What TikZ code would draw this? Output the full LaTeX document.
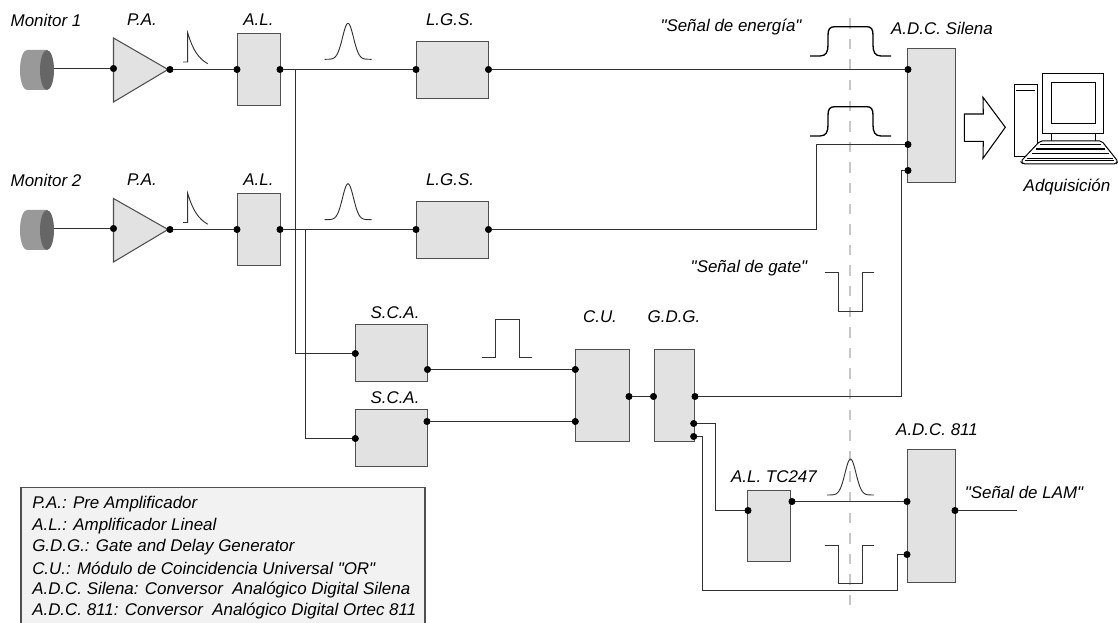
\documentclass[tikz,border=0pt]{standalone}
\usepackage{fontspec}
\setmainfont[Ligatures=TeXOff]{Liberation Sans}

\definecolor{boxfill}{HTML}{E2E2E2}
\definecolor{boxline}{HTML}{505050}
\definecolor{wirecol}{HTML}{303030}
\definecolor{legendfill}{HTML}{F2F2F2}

\begin{document}
\begin{tikzpicture}
[
	x=0.75pt,
	y=-0.75pt,
	closedpt/.style={circle,draw,fill,inner sep=0pt,minimum size=4.8pt},
	unit/.style 2 args={draw=boxline,fill=boxfill,line width=0.8pt,inner sep=0pt,minimum width=#1*0.75pt,minimum height=#2*0.75pt},
	wire/.style={wirecol,line width=0.75pt},
	pulse/.style={black!80!white,line width=0.7pt},
	toppulse/.style={black,line width=1pt},
	tag/.style={font=\fontsize{12.7}{15}\selectfont\itshape,inner sep=0pt},
	pc/.style={black,line width=0.75pt,fill=white}
]
	\useasboundingbox (0,0) rectangle (1118,623);

	% legend
	\fill[legendfill] (21,487.5) rectangle (425,623);
	\draw[boxline,line width=0.8pt] (21,623) -- (21,487.5) -- (425,487.5) -- (425,623);
	\node[tag,anchor=west] at (32,504) (keypa) {P.A.: Pre Amplificador};
	\node[tag,anchor=west] at (32,526) (keyal) {A.L.: Amplificador Lineal};
	\node[tag,anchor=west] at (32,547) (keygdg) {G.D.G.: Gate and Delay Generator};
	\node[tag,anchor=west] at (32,568.5) (keycu) {C.U.: Módulo de Coincidencia Universal "OR"};
	\node[tag,anchor=west] at (32,590) (keysilena) {A.D.C. Silena: Conversor\ \ Analógico Digital Silena};
	\node[tag,anchor=west] at (32,611) (keyortec) {A.D.C. 811: Conversor\ \ Analógico Digital Ortec 811};

	% trigger line
	\draw[black!22!white,line width=1.3pt,dash pattern=on 7.8pt off 7.65pt] (850,18.3) -- (850,608);

	% detectors
	\fill[black!40!white] (27,50) -- (47,50) -- (47,90) -- (27,90) arc[start angle=90,end angle=270,x radius=7,y radius=20];
	\fill[black!60!white] (47,70) ellipse[x radius=7,y radius=20];
	\fill[black!40!white] (27,210) -- (47,210) -- (47,250) -- (27,250) arc[start angle=90,end angle=270,x radius=7,y radius=20];
	\fill[black!60!white] (47,230) ellipse[x radius=7,y radius=20];
	\coordinate (mona) at (54,68.5);
	\coordinate (monb) at (54,228.5);

	% pre amplifiers
	\filldraw[fill=boxfill,draw=boxline,line width=0.8pt] (113.5,38) -- (113.5,102) -- (168,69.5) -- cycle;
	\filldraw[fill=boxfill,draw=boxline,line width=0.8pt] (113.5,198.5) -- (113.5,262) -- (168,229.5) -- cycle;

	% modules
	\node[unit={43}{72}] at (259,69.5) (ala) {};
	\node[unit={43}{72}] at (259,229.5) (alb) {};
	\node[unit={72}{57}] at (452.5,70) (lgsa) {};
	\node[unit={72}{57}] at (452.5,230) (lgsb) {};
	\node[unit={72}{57}] at (391.5,353) (scaa) {};
	\node[unit={72}{57}] at (391.5,438) (scab) {};
	\node[unit={54}{92}] at (602.5,395.5) (cu) {};
	\node[unit={40}{92}] at (674.5,395.5) (gdg) {};
	\node[unit={48}{134}] at (931.5,115.5) (silena) {};
	\node[unit={43}{71}] at (769,526) (altc) {};
	\node[unit={48}{133}] at (931.5,516) (ortec) {};

	% labels
	\node[tag] at (46,20) (monalabel) {Monitor 1};
	\node[tag] at (142,20) (paalabel) {P.A.};
	\node[tag] at (258.5,20) (alalabel) {A.L.};
	\node[tag] at (450,20) (lgsalabel) {L.G.S.};
	\node[tag] at (46,180) (monblabel) {Monitor 2};
	\node[tag] at (142,180) (pablabel) {P.A.};
	\node[tag] at (258.5,180) (alblabel) {A.L.};
	\node[tag] at (450,180) (lgsblabel) {L.G.S.};
	\node[tag] at (395,313) (scaalabel) {S.C.A.};
	\node[tag] at (395,398) (scablabel) {S.C.A.};
	\node[tag] at (600,317) (culabel) {C.U.};
	\node[tag] at (674,317) (gdglabel) {G.D.G.};
	\node[tag] at (731,27) (energylabel) {"Señal de energía"};
	\node[tag] at (942,28) (silenalabel) {A.D.C. Silena};
	\node[tag] at (1067,187) (daqlabel) {Adquisición};
	\node[tag] at (749,268) (gatelabel) {"Señal de gate"};
	\node[tag] at (937,430) (ortexlabel) {A.D.C. 811};
	\node[tag] at (774,477) (altclabel) {A.L. TC247};
	\node[tag] at (1024,492) (lamlabel) {"Señal de LAM"};

	% contact points
	\node[closedpt] at (113.5,68.5) (paain) {};
	\node[closedpt] at (170,69.5) (paaout) {};
	\node[closedpt] at (113.5,228.5) (pabin) {};
	\node[closedpt] at (170,229.5) (pabout) {};
	\node[closedpt] at (237,69.5) (alain) {};
	\node[closedpt] at (280,69.5) (alaout) {};
	\node[closedpt] at (237,229.5) (albin) {};
	\node[closedpt] at (280,229.5) (albout) {};
	\node[closedpt] at (416,69.5) (lgsain) {};
	\node[closedpt] at (488.5,69.5) (lgsaout) {};
	\node[closedpt] at (416,229.5) (lgsbin) {};
	\node[closedpt] at (488.5,229.5) (lgsbout) {};
	\node[closedpt] at (355.3,353.5) (scaain) {};
	\node[closedpt] at (427.5,369.5) (scaaout) {};
	\node[closedpt] at (355.3,438.5) (scabin) {};
	\node[closedpt] at (427,421.5) (scabout) {};
	\node[closedpt] at (575.3,369.5) (cuina) {};
	\node[closedpt] at (575.3,421.5) (cuinb) {};
	\node[closedpt] at (629,396.5) (cuout) {};
	\node[closedpt] at (653.5,396.5) (gdgin) {};
	\node[closedpt] at (695,396.5) (gdgouta) {};
	\node[closedpt] at (693.7,423.5) (gdgoutb) {};
	\node[closedpt] at (693.7,436.5) (gdgoutc) {};
	\node[closedpt] at (908,69.5) (silenaa) {};
	\node[closedpt] at (908,144.5) (silenab) {};
	\node[closedpt] at (908,170.5) (silenac) {};
	\node[closedpt] at (748,510.5) (altcin) {};
	\node[closedpt] at (792,501.5) (altcout) {};
	\node[closedpt] at (907,501.5) (ortexa) {};
	\node[closedpt] at (907,554.5) (ortexb) {};
	\node[closedpt] at (955,510.5) (ortexout) {};

	% free ends and bends
	\coordinate (tapa) at (295.5,69.5);
	\coordinate (tapb) at (305.5,229.5);
	\coordinate (lgsbend) at (816.5,229.5);
	\coordinate (gatebend) at (901.5,396.5);
	\coordinate (tcbend) at (715.5,423.5);
	\coordinate (lowbend) at (702.5,590.5);
	\coordinate (lowrise) at (897.5,590.5);
	\coordinate (lamend) at (1016.5,510.5);

	% connections
	\draw[wire] (mona) -- (paain);
	\draw[wire] (monb) -- (pabin);
	\draw[wire] (paaout) -- (alain);
	\draw[wire] (pabout) -- (albin);
	\draw[wire] (alaout) -- (lgsain);
	\draw[wire] (albout) -- (lgsbin);
	\draw[wire] (lgsaout) -- (silenaa);
	\draw[wire] (lgsbout) -- (lgsbend) |- (silenab);
	\draw[wire] (tapa) |- (scaain);
	\draw[wire] (tapb) |- (scabin);
	\draw[wire] (scaaout) -- (cuina);
	\draw[wire] (scabout) -- (cuinb);
	\draw[wire] (cuout) -- (gdgin);
	\draw[wire] (gdgouta) -- (gatebend) |- (silenac);
	\draw[wire] (gdgoutb) -- (tcbend) |- (altcin);
	\draw[wire] (gdgoutc) -| (lowbend) -- (lowrise) |- (ortexb);
	\draw[wire] (altcout) -- (ortexa);
	\draw[wire] (ortexout) -- (lamend);

	% pulses
	\draw[pulse] (183,62) -- (187.7,62) -- (187.7,33) .. controls (193,50) and (198,58) .. (207.7,63.7);
	\draw[pulse] (183,222.5) -- (187.7,222.5) -- (187.7,193.5) .. controls (193,210.5) and (198,218.5) .. (207.7,224.2);
	\draw[pulse,shift={(348,59.3)},domain=-23.5:23.5,samples=50,smooth] plot (\x,{-36*exp(-\x*\x/60)});
	\draw[pulse,shift={(348,219.7)},domain=-23.5:23.5,samples=50,smooth] plot (\x,{-36*exp(-\x*\x/60)});
	\draw[pulse,shift={(850.5,495)},domain=-23.5:23.5,samples=50,smooth] plot (\x,{-36*exp(-\x*\x/60)});
	\draw[pulse] (482.3,357.7) -- (495.3,357.7) -- (495.3,319) -- (519.3,319) -- (519.3,357.7) -- (531.7,357.7);
	\draw[pulse] (825,272.3) -- (838.3,272.3) -- (838.3,311) -- (862.3,311) -- (862.3,272.3) -- (874,272.3);
	\draw[pulse] (825,545) -- (838.3,545) -- (838.3,583.7) -- (862.3,583.7) -- (862.3,545) -- (874,545);
	\draw[toppulse] (810,56) -- (820,56) .. controls (826,56) and (828,52) .. (828,45) -- (828,35) .. controls (828,29) and (830,26.7) .. (835,26.7) -- (867,26.7) .. controls (871,26.7) and (873,29) .. (873,35) -- (873,45) .. controls (873,52) and (875,56) .. (881,56) -- (891,56);
	\draw[toppulse] (810,136) -- (820,136) .. controls (826,136) and (828,132) .. (828,125) -- (828,115) .. controls (828,109) and (830,106.7) .. (835,106.7) -- (867,106.7) .. controls (871,106.7) and (873,109) .. (873,115) -- (873,125) .. controls (873,132) and (875,136) .. (881,136) -- (891,136);

	% arrow to computer
	\draw[black,line width=0.8pt] (964.3,114) -- (983.3,114) -- (983,97.3) -- (1005.3,127.3) -- (983,158.3) -- (983.3,141.3) -- (964.3,141.3) -- cycle;

	% computer
	\filldraw[pc] (1014,85) rectangle (1037.3,156.7);
	\draw[black,line width=1.2pt] (1016,90.7) -- (1035,90.7);
	\filldraw[pc] (1042.7,73.3) rectangle (1103.3,133.3);
	\draw[pc] (1051,82.7) rectangle (1095.7,123.3);
	\draw[pc] (1051,133.3) -- (1051,141) (1095.7,133.3) -- (1095.7,141);
	\filldraw[pc,rounded corners=1.5pt] (1040,141) -- (1101.7,141) -- (1118,161.5) -- (1116,164) -- (1023,164) -- (1020.7,161.5) -- cycle;
	\draw[black,line width=0.9pt] (1040,144.5) -- (1101,144.5) (1036,149) -- (1105,149) (1032,153.5) -- (1109,153.5) (1027,158.5) -- (1113,158.5) (1025,160.5) -- (1114,160.5);
\end{tikzpicture}
\end{document}
